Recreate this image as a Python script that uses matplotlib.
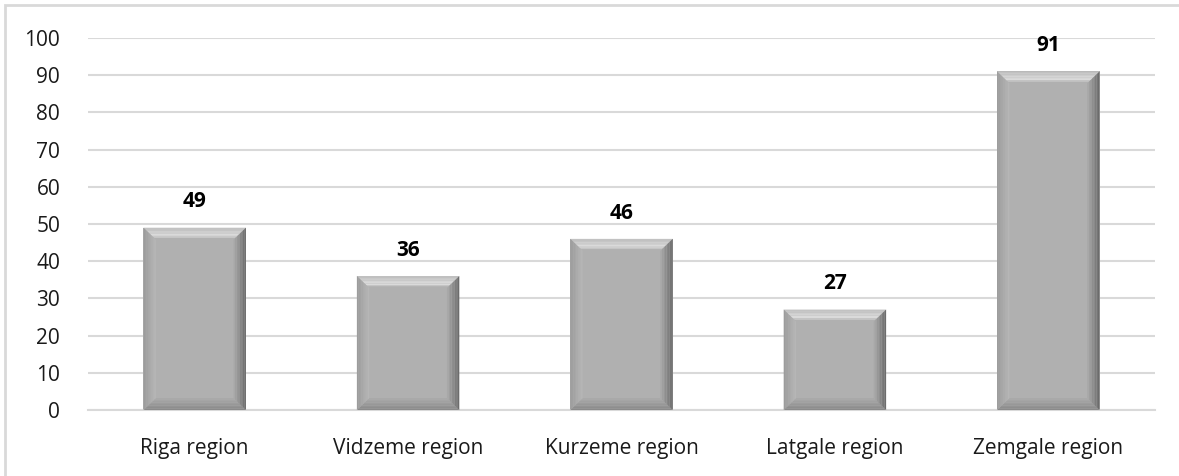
import matplotlib.pyplot as plt
import numpy as np
from matplotlib.patches import Rectangle, Polygon

regions = ["Riga region", "Vidzeme region", "Kurzeme region", "Latgale region", "Zemgale region"]
values = [49, 36, 46, 27, 91]
yticks = [0, 10, 20, 30, 40, 50, 60, 70, 80, 90, 100]

fig = plt.figure(figsize=(11.79, 4.76), dpi=100)
ax = fig.add_axes([88/1179, 1 - 410/476, (1155 - 88)/1179, (410 - 38)/476])

# chart area border (Excel style)
fig.patches.append(Rectangle((5/1179, -0.1), 1.2, 1 - 5/476 + 0.1, transform=fig.transFigure,
                             fill=False, edgecolor="#d9d9d9", linewidth=2))

x = list(range(len(regions)))
w = 0.48
face = "#b0b0b0"
bars = ax.bar(x, values, width=w, color=face, zorder=2)


def mix(c0, c1, t):
    a = np.array(plt.matplotlib.colors.to_rgb(c0))
    b = np.array(plt.matplotlib.colors.to_rgb(c1))
    return tuple(a + (b - a) * t)


# bevel effect, built in steps from each bar's geometry
bx, by = 0.058, 3.2
n = 8
sides = {"top": ("#c2c2c2", "#dcdcdc"), "left": ("#9c9c9c", "#b6b6b6"),
         "right": ("#6c6c6c", "#a8a8a8"), "bottom": ("#8a8a8a", "#a9a9a9")}
for b in bars:
    x0, x1 = b.get_x(), b.get_x() + b.get_width()
    h = b.get_height()
    for k in range(n):
        t0, t1 = k / n, (k + 1) / n
        a0x, a1x = bx * t0, bx * t1
        a0y, a1y = by * t0, by * t1
        tt = k / (n - 1)
        ax.add_patch(Polygon([(x0 + a0x, h - a0y), (x1 - a0x, h - a0y), (x1 - a1x, h - a1y), (x0 + a1x, h - a1y)],
                             color=mix(*sides["top"], min(1, tt * 1.6)) if tt < 0.7 else mix("#dcdcdc", face, (tt - 0.7) / 0.3),
                             zorder=3, lw=0))
        ax.add_patch(Polygon([(x0 + a0x, a0y), (x1 - a0x, a0y), (x1 - a1x, a1y), (x0 + a1x, a1y)],
                             color=mix(*sides["bottom"], tt), zorder=3, lw=0))
        ax.add_patch(Polygon([(x0 + a0x, a0y), (x0 + a0x, h - a0y), (x0 + a1x, h - a1y), (x0 + a1x, a1y)],
                             color=mix(*sides["left"], tt), zorder=3, lw=0))
        ax.add_patch(Polygon([(x1 - a0x, a0y), (x1 - a0x, h - a0y), (x1 - a1x, h - a1y), (x1 - a1x, a1y)],
                             color=mix(*sides["right"], tt), zorder=3, lw=0))
    ax.annotate(f"{h:g}", xy=(b.get_x() + b.get_width() / 2, h), xytext=(0, 11),
                textcoords="offset points", ha="center", va="bottom",
                fontsize=15, fontweight="bold", color="black", family="Open Sans")

ax.set_ylim(0, 100)
ax.set_xlim(-0.5, len(regions) - 0.5)
ax.set_yticks(yticks)
ax.set_xticks(x)
ax.set_xticklabels(regions)
ax.yaxis.grid(True, color="#d9d9d9", linewidth=1.5, zorder=0)
ax.set_axisbelow(True)
for s in ["top", "right", "left"]:
    ax.spines[s].set_visible(False)
ax.spines["bottom"].set_color("#d9d9d9")
ax.spines["bottom"].set_linewidth(1.5)
ax.tick_params(axis="both", length=0, labelsize=15, colors="#1a1a1a")
ax.tick_params(axis="y", pad=20)
ax.tick_params(axis="x", pad=20)
for lbl in ax.get_xticklabels() + ax.get_yticklabels():
    lbl.set_family("Open Sans")

fig.savefig("out.png", dpi=100)
